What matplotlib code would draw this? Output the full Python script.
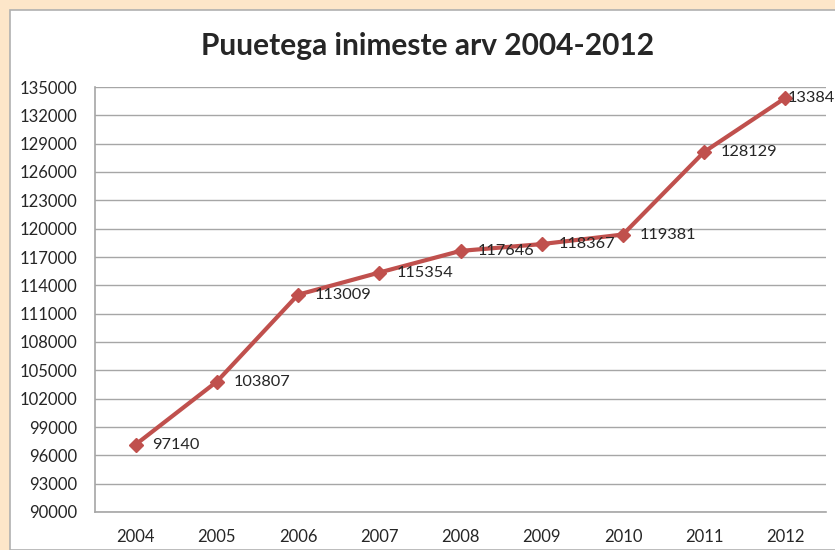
import matplotlib.pyplot as plt
from matplotlib.patches import Rectangle

years = ["2004", "2005", "2006", "2007", "2008", "2009", "2010", "2011", "2012"]
people = [97140, 103807, 113009, 115354, 117646, 118367, 119381, 128129, 133847]
y_ticks = list(range(90000, 135001, 3000))

LINE = "#C0504D"
TEXT = "#262626"
GRID = "#A6A6A6"
BEIGE = "#FDE6C9"

plt.rcParams["font.family"] = ["Lato", "DejaVu Sans"]

W, H = 835, 550
fig = plt.figure(figsize=(W / 100, H / 100), dpi=100)
fig.patch.set_facecolor(BEIGE)

# white chart area with grey border, kept behind the axes
fig.patches.append(Rectangle((10 / W, 0), 1, 1 - 10 / H, transform=fig.transFigure,
                             facecolor="white", edgecolor="#B0B0B0", linewidth=1.2,
                             zorder=-5))

left, right, top, bottom = 95, 826, 87, 512
ax = fig.add_axes([left / W, 1 - bottom / H, (right - left) / W, (bottom - top) / H])
ax.set_facecolor("none")

x = list(range(len(years)))
ax.plot(x, people, color=LINE, linewidth=3, marker="D", markersize=7,
        markerfacecolor=LINE, markeredgecolor=LINE, zorder=3, clip_on=False)

# labels sit to the right of the points; the last one hugs its marker like the original
for xi, v in zip(x, people):
    dx = 2 if xi == x[-1] else 17
    ax.annotate(str(v), (xi, v), xytext=(dx, 0), textcoords="offset pixels",
                ha="left", va="center", fontsize=11.8, color=TEXT, annotation_clip=False)

ax.set_xlim(-0.5, len(years) - 0.5)
ax.set_ylim(90000, 135000)
ax.set_xticks(x, labels=years)
ax.set_yticks(y_ticks, labels=[str(t) for t in y_ticks])
ax.tick_params(axis="both", length=0, labelsize=12, colors=TEXT)
ax.tick_params(axis="y", pad=13)
ax.tick_params(axis="x", pad=12)
ax.yaxis.grid(True, color=GRID, linewidth=1)
ax.set_axisbelow(True)

for name, spine in ax.spines.items():
    spine.set_visible(name in ("left", "bottom"))
    spine.set_color(GRID)
    spine.set_linewidth(1.2)

fig.text(428 / W, 1 - 46 / H, "Puuetega inimeste arv 2004-2012", ha="center", va="center",
         fontsize=21.5, fontweight="bold", color=TEXT)

fig.savefig("out.png", dpi=100, facecolor=fig.get_facecolor())
